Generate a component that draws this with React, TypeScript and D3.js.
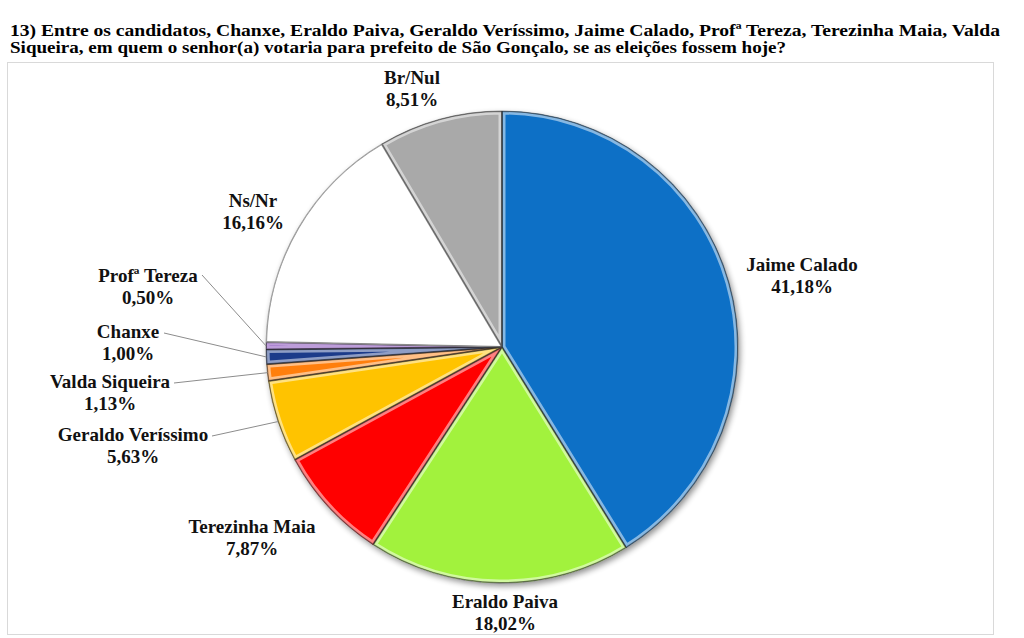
import React from "react";
import * as d3 from "d3";

const categories = [
  "Jaime Calado",
  "Eraldo Paiva",
  "Terezinha Maia",
  "Geraldo Veríssimo",
  "Valda Siqueira",
  "Chanxe",
  "Profª Tereza",
  "Ns/Nr",
  "Br/Nul",
];
const values = [41.18, 18.02, 7.87, 5.63, 1.13, 1.0, 0.5, 16.16, 8.51];
const valueLabels = ["41,18%", "18,02%", "7,87%", "5,63%", "1,13%", "1,00%", "0,50%", "16,16%", "8,51%"];
const colors = ["#0B70C6", "#A2F23E", "#FF0000", "#FFC300", "#FF7F0E", "#1B3A8A", "#7A3BB5", "#FFFFFF", "#A9A9A9"];

const titleLines = [
  "13) Entre os candidatos, Chanxe, Eraldo Paiva, Geraldo Veríssimo, Jaime Calado, Profª Tereza, Terezinha Maia, Valda",
  "Siqueira, em quem o senhor(a) votaria para prefeito de São Gonçalo, se as eleições fossem hoje?",
];

// label layout: [centerX, baselineY of first line]
const labelPos: [number, number][] = [
  [802, 271],
  [505, 608],
  [252, 533],
  [133, 441],
  [110, 388],
  [128, 338],
  [148, 282],
  [253, 207],
  [412, 84],
];
// leader-line start points (only for small slices)
const leaderStart: ([number, number] | null)[] = [
  null, null, null,
  [212, 440],
  [174, 387],
  [164, 337],
  [202, 279],
  null, null,
];

const FONT = "Liberation Serif, Times New Roman, serif";

export default function App() {
  const W = 1024, H = 638;
  const cx = 502, cy = 347, r = 236;
  const pie = d3.pie<number>().sort(null).value((d) => d)(values);
  const arc = d3.arc<d3.PieArcDatum<number>>().innerRadius(0).outerRadius(r);
  const textStyle = { fontFamily: FONT, fontWeight: 700 } as React.CSSProperties;

  return (
    <svg width={W} height={H} style={{ position: "absolute", left: 0, top: 0, background: "#fff", fontFamily: FONT }}>
      <defs>
        <filter id="shadow" x="-20%" y="-20%" width="140%" height="140%">
          <feGaussianBlur in="SourceAlpha" stdDeviation="3" />
          <feOffset dx="2" dy="3" result="b" />
          <feComponentTransfer>
            <feFuncA type="linear" slope="0.45" />
          </feComponentTransfer>
          <feMerge>
            <feMergeNode />
            <feMergeNode in="SourceGraphic" />
          </feMerge>
        </filter>
        {pie.map((p, i) => (
          <clipPath id={`clip${i}`} key={i}>
            <path d={arc(p) || ""} />
          </clipPath>
        ))}
      </defs>
      <rect x={7.5} y={62.5} width={986} height={572} fill="#fff" stroke="#d9d9d9" strokeWidth={1} />
      {titleLines.map((t, i) => (
        <text
          key={i}
          x={10}
          y={35.5 + i * 17.5}
          style={textStyle}
          fontSize={17}
          fill="#000"
          textLength={i === 0 ? 990 : 776}
          lengthAdjust="spacingAndGlyphs"
        >
          {t}
        </text>
      ))}
      <g transform={`translate(${cx},${cy})`}>
        <g filter="url(#shadow)">
          {pie.map((p, i) => (
            <path key={i} d={arc(p) || ""} fill={colors[i]} />
          ))}
        </g>
        {pie.map((p, i) => (
          <g key={i} clipPath={`url(#clip${i})`}>
            <path d={arc(p) || ""} fill="none" stroke="#fff" strokeOpacity={0.5} strokeWidth={7} />
            <path d={arc(p) || ""} fill="none" stroke="#000" strokeOpacity={0.4} strokeWidth={2} />
          </g>
        ))}
        {pie.map((p, i) => (
          <path key={i} d={arc(p) || ""} fill="none" stroke={i === 7 ? "#9a9a9a" : "rgba(0,0,0,0.45)"} strokeWidth={0.8} />
        ))}
      </g>
      {pie.map((p, i) => {
        const s = leaderStart[i];
        if (!s) return null;
        const mid = (p.startAngle + p.endAngle) / 2;
        const ex = cx + r * Math.sin(mid);
        const ey = cy - r * Math.cos(mid);
        return <line key={i} x1={s[0]} y1={s[1] - 4} x2={ex} y2={ey} stroke="#8c8c8c" strokeWidth={1} />;
      })}
      {categories.map((c, i) => (
        <text key={i} x={labelPos[i][0]} y={labelPos[i][1]} textAnchor="middle" style={textStyle} fontSize={19} fill="#111">
          <tspan x={labelPos[i][0]}>{c}</tspan>
          <tspan x={labelPos[i][0]} dy={22}>{valueLabels[i]}</tspan>
        </text>
      ))}
    </svg>
  );
}
